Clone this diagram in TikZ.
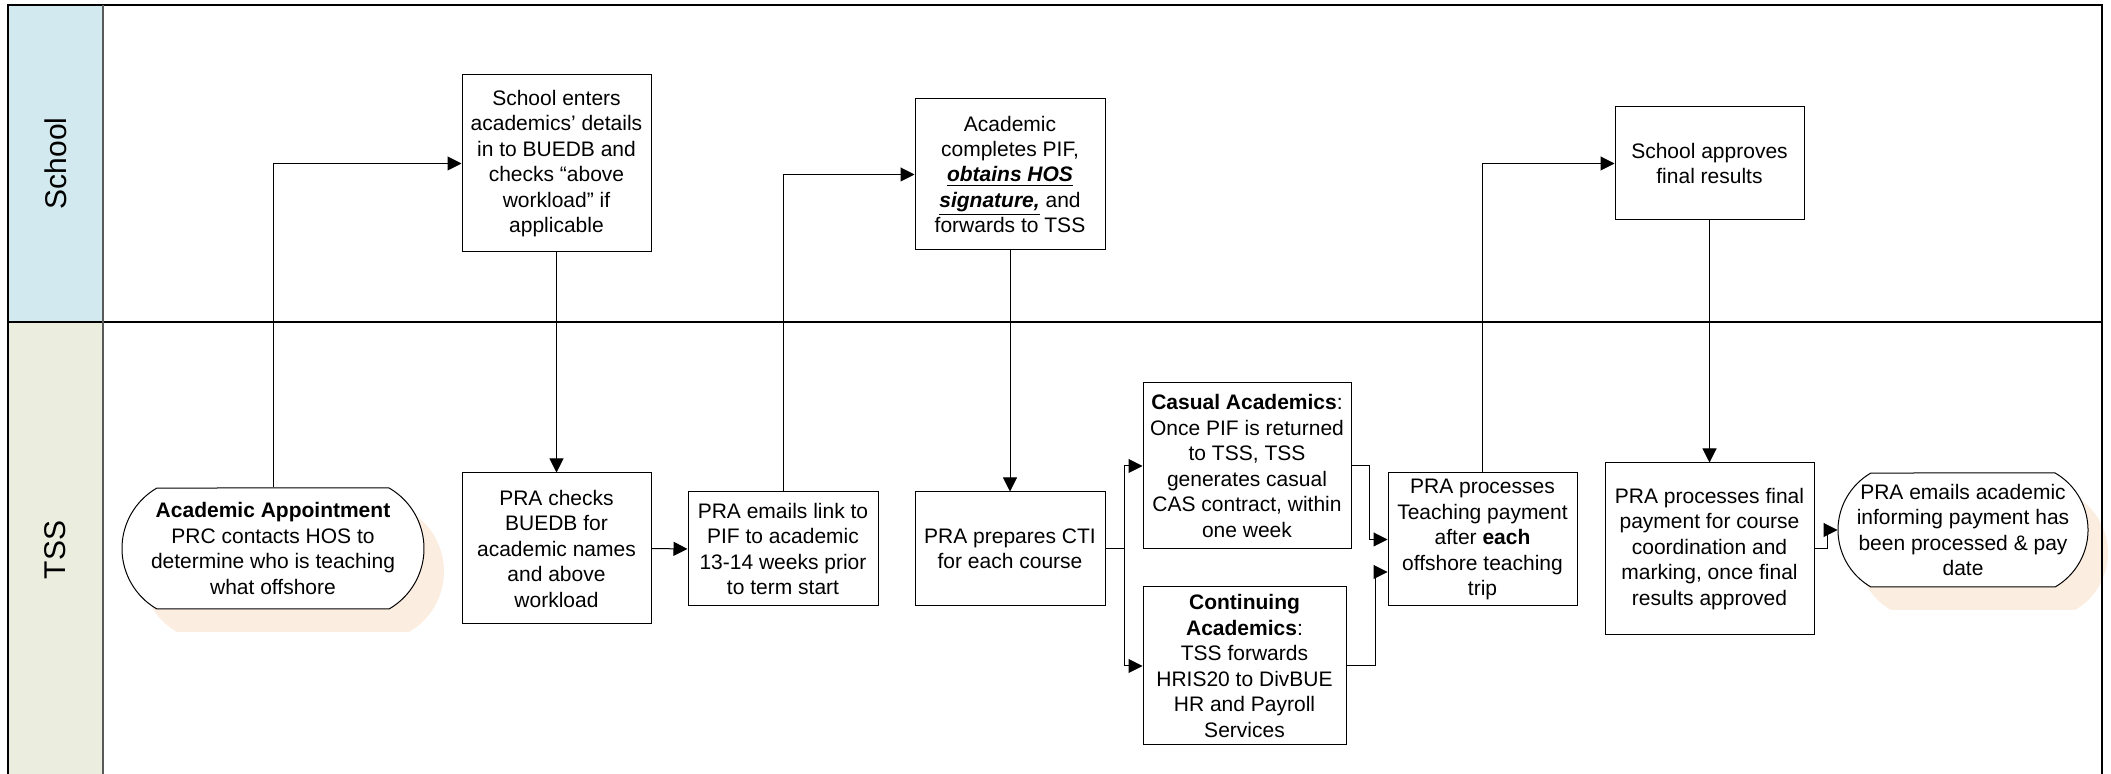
\documentclass[tikz,border=0pt]{standalone}
\usepackage{fontspec}
\setmainfont{Liberation Sans}
\usetikzlibrary{arrows.meta,shapes.misc,shadows,calc}
\definecolor{schoolc}{RGB}{210,233,239}
\definecolor{tssc}{RGB}{235,238,223}
\definecolor{shadowc}{RGB}{252,237,225}
\begin{document}
\begin{tikzpicture}[x=0.5pt,y=-0.5pt,
  box/.style={draw, fill=white, line width=0.5pt, inner sep=0pt, align=center,
    font=\fontsize{10.5pt}{12.75pt}\selectfont},
  term/.style={box, rounded rectangle, rounded rectangle arc length=120,
    drop shadow={shadow xshift=10pt, shadow yshift=-11.5pt, fill=shadowc, opacity=1}},
  arr/.style={draw, line width=0.5pt, -{Triangle[length=7pt,width=7pt]}},
  lanelabel/.style={rotate=90, font=\fontsize{15pt}{18pt}\selectfont, inner sep=0pt},
  frameline/.style={line width=1pt}
]
\useasboundingbox (0,0) rectangle (2111,774);
% lane label fills
\fill[schoolc] (8,5) rectangle (103,322);
\fill[tssc] (8,322) rectangle (103,790);
\node[lanelabel] (laneS) at (55.5,163.5) {School};
\node[lanelabel] (laneT) at (55.5,550) {TSS};

% nodes
\node[term, minimum width=151pt, minimum height=60.5pt] (start) at (273,548.5)
  {\textbf{Academic Appointment}\\PRC contacts HOS to\\determine who is teaching\\what offshore};
\node[box, minimum width=94.5pt, minimum height=88.5pt] (school1) at (556.5,163.5)
  {School enters\\academics’ details\\in to BUEDB and\\checks “above\\workload” if\\applicable};
\node[box, minimum width=94.5pt, minimum height=75.5pt] (checks) at (556.5,548.5)
  {PRA checks\\BUEDB for\\academic names\\and above\\workload};
\node[box, minimum width=95pt, minimum height=57pt] (email) at (783,549)
  {PRA emails link to\\PIF to academic\\13-14 weeks prior\\to term start};
\node[box, minimum width=95pt, minimum height=75.5pt] (academic) at (1010,174.5)
  {Academic\\completes PIF,\\\underline{\textbf{\textit{obtains HOS}}}\\\underline{\textbf{\textit{signature,}}} and\\forwards to TSS};
\node[box, minimum width=95pt, minimum height=57pt] (cti) at (1010,549)
  {PRA prepares CTI\\for each course};
\node[box, minimum width=104pt, minimum height=83pt] (casual) at (1247,466)
  {\textbf{Casual Academics}:\\Once PIF is returned\\to TSS, TSS\\generates casual\\CAS contract, within\\one week};
\node[box, minimum width=101.5pt, minimum height=79pt] (cont) at (1244.5,666)
  {\textbf{Continuing}\\\textbf{Academics}:\\TSS forwards\\HRIS20 to DivBUE\\HR and Payroll\\Services};
\node[box, minimum width=94.5pt, minimum height=66.5pt] (teach) at (1482.5,539.5)
  {PRA processes\\Teaching payment\\after \textbf{each}\\offshore teaching\\trip};
\node[box, minimum width=94.5pt, minimum height=56.5pt] (approve) at (1709.5,163.5)
  {School approves\\final results};
\node[box, minimum width=104.5pt, minimum height=86pt] (finalpay) at (1709.5,549)
  {PRA processes final\\payment for course\\coordination and\\marking, once final\\results approved};
\node[term, minimum width=125pt, minimum height=57pt] (end) at (1963,530)
  {PRA emails academic\\informing payment has\\been processed \& pay\\date};

% frame lines
\draw[frameline] (8,790) -- (8,5) -- (2102,5) -- (2102,790);
\draw[frameline] (8,322) -- (2102,322);
\draw[frameline, black!65] (103,5) -- (103,790);

% connectors
\draw[arr] (start.north) |- (school1.west);
\draw[arr] (school1.south) -- (checks.north);
\draw[arr] (checks.east) -- (email.west);
\draw[arr] (email.north) |- (academic.west);
\draw[arr] (academic.south) -- (cti.north);
\draw[arr] (cti.east) -- ++(19,0) |- (casual.west);
\draw[arr] (cti.east) -- ++(19,0) |- (cont.west);
\draw[arr] (casual.east) -- ++(18,0) |- (teach.west);
\draw[arr] (cont.east) -- ++(29,0) |- ($(teach.west)+(0,32.5)$);
\draw[arr] (teach.north) |- (approve.west);
\draw[arr] (approve.south) -- (finalpay.north);
\draw[arr] (finalpay.east) -- ++(13,0) |- (end.west);
\end{tikzpicture}
\end{document}
